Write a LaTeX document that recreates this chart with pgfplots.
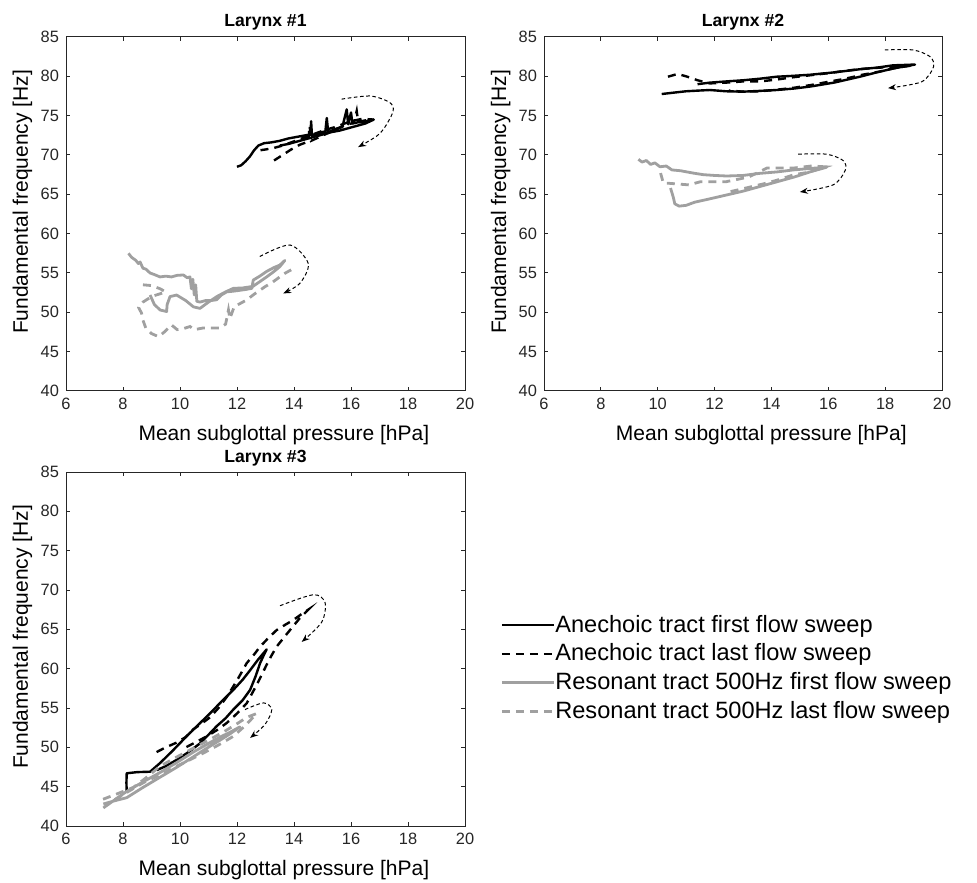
\documentclass[border=0pt]{standalone}
\usepackage{fontspec}
\setmainfont{Liberation Sans}
\usepackage{pgfplots}
\pgfplotsset{compat=1.18}
\usetikzlibrary{arrows.meta}
\definecolor{lgray}{RGB}{160,160,160}
\definecolor{axcol}{RGB}{38,38,38}
\pgfplotsset{
  myax/.style={
    scale only axis, width=199.5pt, height=177pt,
    xmin=6, xmax=20, ymin=40, ymax=85,
    xtick={6,8,...,20}, ytick={40,45,...,85},
    axis line style={axcol, line width=0.5pt},
    major tick style={axcol, line width=0.5pt},
    major tick length=2pt,
    tick align=inside,
    /pgf/number format/assume math mode=true,
    tick label style={font=\fontsize{8.2}{9}\selectfont, text=black!85},
    label style={font=\fontsize{10.5}{12}\selectfont},
    xlabel={Mean subglottal pressure [hPa]},
    ylabel={Fundamental frequency [Hz]},
    x label style={at={(axis description cs:0.546,-0.141)}, anchor=base},
    y label style={at={(axis description cs:-0.109,0.534)}, anchor=center, rotate=0},
    every axis title shift=0pt,
    title style={font=\bfseries\fontsize{8.8}{10}\selectfont, at={(0.5,1)}, anchor=base, yshift=5pt},
  },
  s1/.style={black, line width=1.2pt, line join=round},
  s2/.style={black, line width=1.2pt, dash pattern=on 4pt off 3pt},
  s3/.style={lgray, line width=1.4pt, line join=round},
  s4/.style={lgray, line width=1.4pt, dash pattern=on 4pt off 3pt},
  arr/.style={black, line width=0.5pt, dash pattern=on 1.8pt off 1.3pt, smooth, -{Stealth[length=4pt,width=3pt]}, forget plot},
}
\begin{document}
\begin{tikzpicture}
\useasboundingbox (0,0) rectangle (488.5pt,441pt);
% ---------------- Larynx 1
\begin{axis}[myax, at={(33pt,245.5pt)}, anchor=south west, title={Larynx \#1}]
\addplot[s1] coordinates {(12.00,68.5)(12.15,68.7)(12.3,69.2)(12.45,69.8)(12.6,70.6)(12.75,71.2)(12.95,71.5)(13.2,71.6)(13.5,71.8)(13.8,72.1)(14.1,72.3)(14.4,72.5)(14.58,72.6)(14.6,74.3)(14.63,72.5)(14.85,72.8)(15.1,73.0)(15.15,74.7)(15.2,72.9)(15.45,73.3)(15.7,73.6)(15.85,75.8)(15.9,73.9)(16.0,75.4)(16.05,74.0)(16.3,74.2)(16.55,74.3)(16.8,74.5)(16.5,74.0)(16.2,73.7)(15.9,73.4)(15.6,73.1)(15.3,72.9)(15.0,72.6)(14.7,72.3)(14.4,72.0)(14.1,71.7)(13.8,71.4)(13.5,71.2)};
\addplot[s2] coordinates {(13.3,69.3)(13.6,70.0)(13.9,70.7)(14.2,71.3)(14.5,71.7)(14.55,73.7)(14.6,71.8)(14.9,72.3)(15.2,72.8)(15.5,73.3)(15.8,73.8)(16.1,74.1)(16.2,75.6)(16.25,74.2)(16.5,74.4)(16.8,74.5)(16.4,74.6)(16.0,74.3)(15.7,73.9)(15.4,73.5)(15.1,73.2)(14.8,72.8)(14.5,72.4)(14.2,72.0)(13.9,71.6)(13.6,71.2)(13.3,70.9)(13.0,70.7)(12.8,70.6)};
\addplot[s3] coordinates {(8.19,57.5)(8.3,57.0)(8.45,56.6)(8.54,56.2)(8.6,56.4)(8.7,55.6)(8.8,55.5)(8.95,55.0)(9.1,54.8)(9.3,54.5)(9.5,54.6)(9.7,54.5)(9.9,54.7)(10.12,54.75)(10.25,54.4)(10.35,54.5)(10.4,53.0)(10.45,54.2)(10.5,52.2)(10.55,53.5)(10.59,51.4)(10.7,51.3)(10.9,51.5)(11.1,51.5)(11.29,51.6)(11.45,52.2)(11.64,52.6)(11.9,52.7)(12.1,52.8)(12.3,52.9)(12.52,53.05)(12.57,54.1)(12.8,54.6)(13.04,55.2)(13.3,55.7)(13.5,56.0)(13.68,56.6)(13.5,55.8)(13.3,55.2)(13.04,54.5)(12.8,53.9)(12.56,53.3)(12.2,53.1)(11.87,53.05)(11.6,52.6)(11.29,52.0)(11.0,51.3)(10.7,50.5)(10.47,50.7)(10.2,51.5)(9.88,52.2)(9.65,52.0)(9.55,51.0)(9.53,50.1)(9.3,50.3)(9.1,51.0)(8.95,52.2)};
\addplot[s4] coordinates {(8.7,53.5)(9.0,53.4)(9.3,53.0)(9.5,52.6)(9.0,52.0)(8.7,51.3)(8.55,50.6)(8.65,49.9)(8.7,49.0)(8.8,48.0)(9.0,47.3)(9.25,46.9)(9.45,47.5)(9.7,48.4)(9.9,47.8)(10.1,47.9)(10.35,48.2)(10.5,47.8)(10.8,48.0)(11.1,48.0)(11.4,48.0)(11.6,48.5)(11.7,50.3)(11.75,49.2)(11.9,50.7)(12.1,51.1)(12.35,51.6)(12.6,52.3)(12.8,52.8)(13.0,53.3)(13.2,53.7)(13.5,54.5)(13.7,55.0)(13.9,55.4)};
\addplot[arr] coordinates {(15.67,77.1)(16.67,77.5)(17.35,76.7)(17.48,75.6)(17.2,73.6)(16.9,72.4)(16.25,71.0)};
\addplot[arr] coordinates {(12.8,57.1)(13.86,58.56)(14.5,56.2)(14.21,53.7)(13.62,52.4)};
\end{axis}
% ---------------- Larynx 2
\begin{axis}[myax, at={(272pt,245.5pt)}, anchor=south west, width=199pt, title={Larynx \#2}]
\addplot[s1] coordinates {(10.14,77.75)(10.5,77.9)(11.0,78.1)(11.5,78.2)(11.84,78.26)(12.4,78.1)(13.0,78.05)(13.6,78.15)(14.18,78.26)(14.8,78.45)(15.36,78.7)(16.2,79.2)(17.11,79.95)(17.7,80.5)(18.29,81.0)(19.05,81.5)(18.7,81.45)(18.28,81.4)(17.7,81.1)(17.11,80.9)(16.2,80.5)(15.36,80.2)(14.7,80.05)(14.18,79.95)(13.6,79.7)(13.01,79.5)(12.4,79.35)(11.84,79.2)(11.4,79.0)};
\addplot[s2] coordinates {(10.36,79.95)(10.55,80.15)(10.7,80.3)(11.0,80.0)(11.4,79.5)(11.84,79.1)(12.4,79.2)(13.0,79.35)(13.6,79.35)(14.2,79.6)(14.8,79.9)(15.4,80.15)(16.0,80.4)(16.6,80.7)(17.2,80.95)(17.8,81.1)(18.4,81.25)(19.0,81.4)(18.4,81.1)(17.8,80.6)(17.2,80.2)(16.6,79.7)(16.0,79.3)(15.4,78.9)(14.8,78.55)(14.2,78.3)(13.6,78.1)(13.0,78.05)(12.5,78.2)};
\addplot[s3] coordinates {(9.32,69.45)(9.45,69.1)(9.6,69.3)(9.75,68.8)(9.9,69.0)(10.08,68.5)(10.3,68.6)(10.5,68.1)(10.8,68.0)(11.25,67.7)(11.6,67.5)(12.0,67.4)(12.43,67.33)(13.0,67.4)(13.6,67.67)(14.2,67.85)(14.77,68.1)(15.4,68.3)(15.94,68.44)(15.4,67.9)(14.8,67.2)(14.2,66.6)(13.6,66.0)(13.0,65.4)(12.4,64.9)(11.8,64.4)(11.3,64.0)(11.0,63.6)(10.75,63.5)(10.6,63.8)(10.55,64.6)(10.45,65.8)};
\addplot[s4] coordinates {(10.1,67.7)(10.2,66.4)(10.4,66.4)(11.1,66.2)(11.5,66.6)(12.4,66.6)(13.2,67.2)(13.85,68.35)(14.8,68.35)(15.4,68.6)(15.9,68.5)(15.3,67.8)(14.8,67.5)(14.2,66.8)(13.8,66.4)(13.1,65.8)(12.5,65.3)};
\addplot[arr] coordinates {(17.99,83.35)(18.98,83.35)(19.58,82.5)(19.7,81.2)(19.28,79.3)(18.1,78.5)};
\addplot[arr] coordinates {(14.94,70.1)(15.94,70.1)(16.52,69.3)(16.6,68.1)(16.17,66.2)(15.0,65.3)};
\end{axis}
% ---------------- Larynx 3
\begin{axis}[myax, at={(33pt,28pt)}, anchor=south west, title={Larynx \#3},
  legend style={at={(1.088,0.446)}, anchor=west, draw=none, fill=none,
    font=\fontsize{11.8}{14}\selectfont, row sep=0.3pt, inner sep=0pt,
    /tikz/every odd column/.append style={column sep=-2pt}},
  legend cell align=left,
  legend image code/.code={\draw[#1] (0pt,0pt) -- (26pt,0pt);}]
\addplot[s1] coordinates {(8.13,44.36)(8.12,45.5)(8.13,46.7)(8.5,46.85)(8.95,46.9)(9.3,48.0)(9.75,49.6)(10.23,51.4)(10.65,52.9)(11.05,54.3)(11.45,55.8)(11.87,57.3)(12.2,58.6)(12.46,59.8)(12.75,61.2)(13.04,62.45)(12.95,61.8)(12.81,60.7)(12.65,59.0)(12.46,57.3)(12.2,56.0)(11.87,54.8)(11.6,53.7)(11.29,52.7)(11.0,51.6)(10.7,50.5)(10.3,49.4)(9.88,48.4)(9.5,47.6)(9.18,47.1)};
\addlegendentry{Anechoic tract first flow sweep}
\addplot[s2] coordinates {(9.18,49.4)(9.5,50.0)(9.88,50.6)(10.2,51.3)(10.47,52.3)(10.75,53.0)(11.05,53.8)(11.35,55.0)(11.64,56.4)(12.0,58.5)(12.34,60.7)(12.6,61.8)(12.81,62.8)(13.1,63.9)(13.39,64.9)(13.7,65.6)(13.98,66.2)(14.25,66.9)(14.5,67.5)(14.2,66.4)(13.97,65.4)(13.7,64.2)(13.39,62.8)(13.2,61.6)(13.04,60.5)(12.7,58.0)(12.34,55.6)(12.0,54.3)(11.64,53.1)(11.3,52.2)(10.94,51.4)(10.47,50.5)(10.1,49.8)};
\addlegendentry{Anechoic tract last flow sweep}
\addplot[s3] coordinates {(7.31,42.8)(7.7,43.2)(8.13,43.6)(8.7,44.9)(9.3,46.2)(9.9,47.5)(10.47,48.8)(10.9,49.8)(11.4,50.9)(11.75,51.7)(12.1,52.6)(11.75,51.9)(11.4,51.3)(10.9,50.3)(10.47,49.4)(9.9,48.1)(9.3,46.8)(8.7,45.6)(8.13,44.4)(7.7,43.3)(7.31,42.3)};
\addlegendentry{Resonant tract 500Hz first flow sweep}
\addplot[s4] coordinates {(7.3,43.4)(7.8,44.1)(8.36,44.9)(8.8,46.1)(9.3,47.6)(9.9,48.8)(10.47,49.9)(11.05,51.0)(11.64,52.2)(12.0,53.0)(12.34,53.8)(12.69,54.3)(12.3,52.8)(11.87,51.4)(11.45,50.5)(11.05,49.7)(10.45,48.6)(9.88,47.6)(9.3,46.5)(8.71,45.5)(8.1,44.2)(7.55,43.0)};
\addlegendentry{Resonant tract 500Hz last flow sweep}
\addplot[arr] coordinates {(13.51,68.0)(14.68,69.4)(15.09,68.4)(14.97,65.9)(14.27,63.4)};
\addplot[arr] coordinates {(12.28,54.8)(12.93,55.65)(13.22,54.8)(12.98,52.9)(12.46,51.2)};
\end{axis}
\end{tikzpicture}
\end{document}
